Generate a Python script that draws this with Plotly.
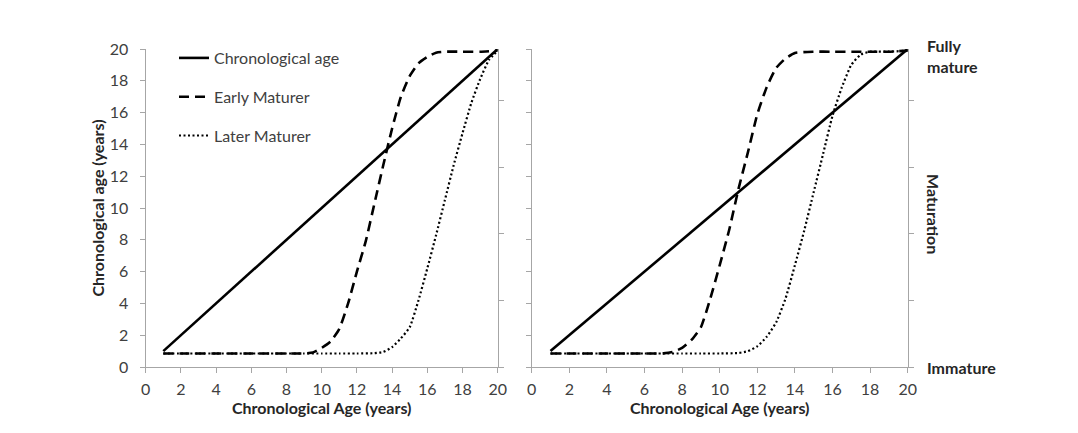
import plotly.graph_objects as go

# ---------------- data ----------------
chrono_x = [1, 20]
chrono_y = [1, 20]

# left panel
early_L_x = [1, 2, 3, 4, 5, 6, 7, 8, 9, 9.5, 10, 10.5, 11, 11.5, 12, 12.5, 13, 13.5, 14, 14.5, 15, 15.5, 16, 16.5, 17, 18, 19, 20]
early_L_y = [0.85, 0.85, 0.85, 0.85, 0.85, 0.85, 0.85, 0.85, 0.85, 0.92, 1.2, 1.6, 2.4, 4.0, 6.0, 7.9, 10.3, 12.7, 15.0, 17.0, 18.3, 19.1, 19.5, 19.77, 19.83, 19.83, 19.83, 19.9]

late_L_x = [1, 2, 3, 4, 5, 6, 7, 8, 9, 10, 11, 12, 13, 13.5, 14, 14.5, 15, 15.5, 16, 16.5, 17, 17.5, 18, 18.5, 19, 19.5, 20]
late_L_y = [0.85, 0.85, 0.85, 0.85, 0.85, 0.85, 0.85, 0.85, 0.85, 0.85, 0.85, 0.85, 0.87, 0.95, 1.25, 1.8, 2.5, 4.2, 6.2, 8.3, 10.5, 12.7, 14.7, 16.6, 18.1, 19.3, 19.9]

# right panel
early_R_x = [1, 2, 3, 4, 5, 6, 7, 7.5, 8, 8.5, 9, 9.5, 10, 10.5, 11, 11.5, 12, 12.5, 13, 13.5, 14, 15, 16, 17, 18, 19, 20]
early_R_y = [0.85, 0.85, 0.85, 0.85, 0.85, 0.85, 0.86, 0.95, 1.2, 1.7, 2.5, 4.3, 6.4, 8.6, 11.2, 13.5, 15.9, 17.6, 18.8, 19.4, 19.75, 19.83, 19.83, 19.83, 19.83, 19.83, 19.9]

late_R_x = [1, 2, 3, 4, 5, 6, 7, 8, 9, 10, 11, 11.5, 12, 12.5, 13, 13.5, 14, 14.5, 15, 15.5, 16, 16.5, 17, 17.5, 18, 19, 20]
late_R_y = [0.85, 0.85, 0.85, 0.85, 0.85, 0.85, 0.85, 0.85, 0.85, 0.85, 0.88, 1.0, 1.3, 1.9, 2.8, 4.3, 6.4, 8.6, 11.0, 13.4, 15.8, 17.6, 19.0, 19.65, 19.83, 19.83, 19.9]

series_names = ["Chronological age", "Early Maturer", "Later Maturer"]
x_ticks = [0, 2, 4, 6, 8, 10, 12, 14, 16, 18, 20]
x_title = "Chronological Age (years)"
y_title = "Chronological age (years)"
right_labels = ["Fully<br>mature", "Maturation", "Immature"]

# ---------------- style ----------------
FONT = "Lato"
AX = "#a6a6a6"
TXT = "#404040"
TTL = "#262626"
W, H = 1078, 433

solid = dict(color="black", width=2.6)
dashed = dict(color="black", width=2.6, dash="10px,6px")
dotted = dict(color="black", width=2.2, dash="2px,2.5px")

fig = go.Figure()

def add(x, y, line, name, xa, ya, show):
    fig.add_trace(go.Scatter(x=x, y=y, mode="lines", line=dict(shape="spline", smoothing=0.5, **line),
                             name=name, xaxis=xa, yaxis=ya, showlegend=show,
                             legendgroup=name, hoverinfo="skip"))

add(chrono_x, chrono_y, solid, series_names[0], "x", "y", True)
add(early_L_x, early_L_y, dashed, series_names[1], "x", "y", True)
add(late_L_x, late_L_y, dotted, series_names[2], "x", "y", True)
add(chrono_x, chrono_y, solid, series_names[0], "x2", "y2", False)
add(early_R_x, early_R_y, dashed, series_names[1], "x2", "y2", False)
add(late_R_x, late_R_y, dotted, series_names[2], "x2", "y2", False)
# empty traces so the secondary (right-hand) axes exist
fig.add_trace(go.Scatter(x=[None], y=[None], xaxis="x", yaxis="y3", showlegend=False, hoverinfo="skip"))
fig.add_trace(go.Scatter(x=[None], y=[None], xaxis="x2", yaxis="y4", showlegend=False, hoverinfo="skip"))

def px_x(a, b):
    return [a / W, b / W]

ydom = [1 - 367 / H, 1 - 49 / H]

common_ax = dict(showgrid=False, zeroline=False, showline=True, linecolor=AX, linewidth=1.3,
                 ticks="outside", ticklen=5, tickcolor=AX, tickwidth=1.3, automargin=False,
                 tickfont=dict(family=FONT, size=16, color=TXT))
title_font = dict(family=FONT, size=16, color=TTL)

fig.update_layout(
    width=W, height=H,
    margin=dict(l=0, r=0, t=0, b=0, pad=0, autoexpand=False),
    paper_bgcolor="white", plot_bgcolor="white",
    font=dict(family=FONT, color=TXT),
    xaxis=dict(domain=px_x(145.7, 497.7), range=[0, 20], tickvals=x_ticks, anchor="y", ticklabelstandoff=3,
               title=dict(text="<b>" + x_title + "</b>", font=title_font, standoff=5),
               **common_ax),
    yaxis=dict(domain=ydom, range=[0, 20], tickvals=x_ticks, anchor="x", ticklabelstandoff=8,
               title=dict(text="<b>" + y_title + "</b>", font=title_font, standoff=1),
               **common_ax),
    yaxis3=dict(domain=ydom, range=[0, 4.77], dtick=1, overlaying="y", side="right", anchor="x",
                showticklabels=False, **common_ax),
    xaxis2=dict(domain=px_x(531.7, 907.7), range=[0, 20], tickvals=x_ticks, anchor="y2", ticklabelstandoff=3,
                title=dict(text="<b>" + x_title + "</b>", font=title_font, standoff=5),
                **common_ax),
    yaxis2=dict(domain=ydom, range=[0, 20], tickvals=x_ticks, anchor="x2", showticklabels=False, **common_ax),
    yaxis4=dict(domain=ydom, range=[0, 4.77], dtick=1, overlaying="y2", side="right", anchor="x2",
                showticklabels=False, **common_ax),
    legend=dict(x=174 / W, y=1 - 41 / H, xanchor="left", yanchor="top",
                bgcolor="rgba(0,0,0,0)", font=dict(family=FONT, size=16, color=TXT),
                traceorder="grouped", tracegroupgap=15, itemwidth=30),
    showlegend=True,
)

lab_font = dict(family=FONT, size=16, color=TTL)
fig.add_annotation(x=925 / W, y=1 - 56 / H, xref="paper", yref="paper", text="<b>" + right_labels[0] + "</b>",
                   showarrow=False, xanchor="left", yanchor="middle", align="left", font=lab_font)
fig.add_annotation(x=934 / W, y=1 - 214 / H, xref="paper", yref="paper", text="<b>" + right_labels[1] + "</b>",
                   showarrow=False, xanchor="center", yanchor="middle", textangle=90, font=lab_font)
fig.add_annotation(x=925 / W, y=1 - 367 / H, xref="paper", yref="paper", text="<b>" + right_labels[2] + "</b>",
                   showarrow=False, xanchor="left", yanchor="middle", align="left", font=lab_font)

fig.write_html("out.html")
